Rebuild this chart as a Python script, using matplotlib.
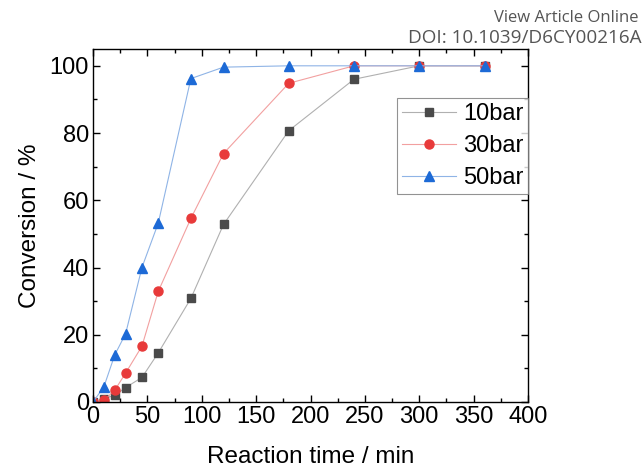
import numpy as np
import matplotlib
matplotlib.use('Agg')
import matplotlib.pyplot as plt
from matplotlib.ticker import MultipleLocator

# conversion vs. time at three H2 pressures
time_min = [0, 10, 20, 30, 45, 60, 90, 120, 180, 240, 300, 360]
conv_10bar = [0, 1.0, 2.0, 4.3, 7.3, 14.6, 30.8, 52.8, 80.7, 96.0, 100, 100]
conv_30bar = [0, 0.5, 3.5, 8.6, 16.6, 32.9, 54.6, 73.9, 94.8, 100, 100, 100]
conv_50bar = [0, 4.5, 14.0, 20.3, 40.0, 53.2, 96.2, 99.6, 100, 100, 100, 100]
labels = ['10bar', '30bar', '50bar']

plt.rcParams['font.family'] = ['Liberation Sans', 'DejaVu Sans']

fig = plt.figure(figsize=(6.43, 4.68), dpi=100)
ax = fig.add_axes([93/643, 66/468, 435/643, 353/468])

styles = [
    dict(marker='s', ms=5.8, color='#b0b0b0', mfc='#4a4a4a', mec='#4a4a4a'),
    dict(marker='o', ms=6.5, color='#f2a0a0', mfc='#e83a3a', mec='#e83a3a'),
    dict(marker='^', ms=7, color='#8fb4e6', mfc='#1d6ad6', mec='#1d6ad6'),
]
for ys, lab, st in zip([conv_10bar, conv_30bar, conv_50bar], labels, styles):
    ax.plot(time_min, ys, lw=0.8, label=lab, **st)

ax.set_xlim(0, 400)
ax.set_ylim(0, 105)
ax.xaxis.set_major_locator(MultipleLocator(50))
ax.xaxis.set_minor_locator(MultipleLocator(25))
ax.yaxis.set_major_locator(MultipleLocator(20))
ax.yaxis.set_minor_locator(MultipleLocator(10))
ax.tick_params(which='both', direction='in', top=True, right=True,
               labelsize=17, width=1)
ax.tick_params(which='major', length=5, pad=3)
ax.tick_params(which='minor', length=3)
for s in ax.spines.values():
    s.set_linewidth(1)

ax.set_xlabel('Reaction time / min', fontsize=17.5, labelpad=13)
ax.set_ylabel('Conversion / %', fontsize=17.5, labelpad=6)

leg = ax.legend(loc='upper right', bbox_to_anchor=(1.0, 0.86), fontsize=17,
                frameon=True, fancybox=False, edgecolor='#777777',
                handlelength=2.3, handletextpad=0.3, borderpad=0.2,
                labelspacing=0.42, borderaxespad=0)
leg.get_frame().set_linewidth(0.8)

fig.text(639/643, 1 - 18/468, 'View Article Online', ha='right', va='center',
         fontsize=12, color='#555555', family='Open Sans')
fig.text(641/643, 1 - 38/468, 'DOI: 10.1039/D6CY00216A', ha='right',
         va='center', fontsize=13.6, color='#555555', family='Open Sans')

plt.savefig('out.png', dpi=100)
